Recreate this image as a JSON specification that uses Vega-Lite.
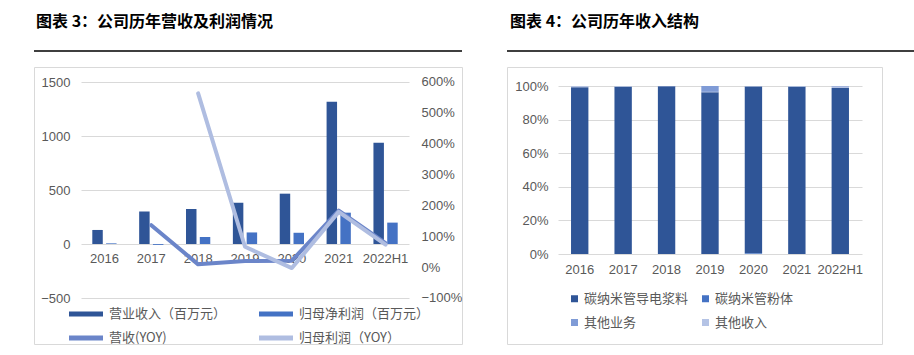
{
  "$schema": "https://vega.github.io/schema/vega-lite/v6.json",
  "padding": {"left": 33, "top": 14, "right": 0, "bottom": 0},
  "background": "white",
  "spacing": 43,
  "resolve": {"scale": {"color": "independent"}, "legend": {"color": "independent"}},
  "config": {
    "font": "Noto Sans CJK SC",
    "axis": {"labelFont": "Liberation Sans", "labelFontSize": 13, "labelColor": "#595959", "domain": false, "ticks": false, "gridColor": "#D9D9D9", "gridWidth": 1, "title": null},
    "legend": {"labelFont": "Noto Sans CJK SC", "labelFontSize": 13, "labelColor": "#595959", "title": null, "padding": 0, "labelLimit": 400}
  },
  "hconcat": [
    {
      "spacing": 14,
      "vconcat": [
        {
          "width": 428,
          "height": 2,
          "title": {"text": "图表 3：公司历年营收及利润情况", "anchor": "start", "dx": 2, "offset": 20, "fontSize": 16, "fontWeight": "bold", "color": "#000000", "font": "Noto Sans CJK SC"},
          "view": {"fill": "#3F3F3F", "stroke": null},
          "data": {"values": []},
          "mark": "rule",
          "encoding": {}
        },
        {
          "width": 428,
          "height": 277,
          "view": {"stroke": "#D9D9D9", "strokeWidth": 1},
          "layer": [
            {
              "data": {"values": [
                {"year": "2016", "series": "营业收入（百万元）", "value": 130},
                {"year": "2017", "series": "营业收入（百万元）", "value": 302},
                {"year": "2018", "series": "营业收入（百万元）", "value": 324},
                {"year": "2019", "series": "营业收入（百万元）", "value": 382},
                {"year": "2020", "series": "营业收入（百万元）", "value": 466},
                {"year": "2021", "series": "营业收入（百万元）", "value": 1317},
                {"year": "2022H1", "series": "营业收入（百万元）", "value": 938},
                {"year": "2016", "series": "归母净利润（百万元）", "value": 6},
                {"year": "2017", "series": "归母净利润（百万元）", "value": -8},
                {"year": "2018", "series": "归母净利润（百万元）", "value": 65},
                {"year": "2019", "series": "归母净利润（百万元）", "value": 107},
                {"year": "2020", "series": "归母净利润（百万元）", "value": 104},
                {"year": "2021", "series": "归母净利润（百万元）", "value": 290},
                {"year": "2022H1", "series": "归母净利润（百万元）", "value": 198}
              ]},
              "mark": {"type": "bar"},
              "encoding": {
                "x": {"field": "year", "type": "nominal", "scale": {"domain": ["2016", "2017", "2018", "2019", "2020", "2021", "2022H1"], "range": [47, 375], "paddingInner": 0, "paddingOuter": 0}, "axis": {"orient": "bottom", "offset": -100, "labelPadding": 8, "labelAngle": 0, "grid": false}},
                "xOffset": {"field": "series", "type": "nominal", "sort": ["营业收入（百万元）", "归母净利润（百万元）"], "scale": {"paddingInner": 0.24, "paddingOuter": 0.82}},
                "y": {"field": "value", "type": "quantitative", "scale": {"domain": [-925.9, 1638.9], "nice": false, "zero": false}, "axis": {"orient": "left", "values": [-500, 0, 500, 1000, 1500], "format": "d", "offset": -47, "labelPadding": 11, "grid": true}},
                "color": {
                  "field": "series", "type": "nominal",
                  "scale": {"domain": ["营业收入（百万元）", "归母净利润（百万元）", "营收(YOY)", "归母利润（YOY）"], "range": ["#2F5597", "#4472C4", "#6B85C9", "#AFBDE1"]},
                  "legend": {
                    "orient": "none", "direction": "horizontal", "legendX": 35, "legendY": 247, "columns": 2, "columnPadding": 32, "rowPadding": -11,
                    "symbolType": "M-1,-0.15H1V0.15H-1Z", "symbolSize": 1156, "labelOffset": 6, "symbolStrokeWidth": 0,
                    "encode": {"symbols": {"update": {"fill": {"scale": "color", "field": "value"}, "stroke": {"value": "transparent"}, "opacity": {"value": 1}}}}
                  }
                }
              }
            },
            {
              "data": {"values": [
                {"year": "2017", "series": "营收(YOY)", "yoy": 1.36},
                {"year": "2018", "series": "营收(YOY)", "yoy": 0.09},
                {"year": "2019", "series": "营收(YOY)", "yoy": 0.20},
                {"year": "2020", "series": "营收(YOY)", "yoy": 0.21},
                {"year": "2021", "series": "营收(YOY)", "yoy": 1.83},
                {"year": "2022H1", "series": "营收(YOY)", "yoy": 0.78},
                {"year": "2018", "series": "归母利润（YOY）", "yoy": 5.63},
                {"year": "2019", "series": "归母利润（YOY）", "yoy": 0.66},
                {"year": "2020", "series": "归母利润（YOY）", "yoy": -0.03},
                {"year": "2021", "series": "归母利润（YOY）", "yoy": 1.79},
                {"year": "2022H1", "series": "归母利润（YOY）", "yoy": 0.73}
              ]},
              "mark": {"type": "line", "strokeWidth": 4, "strokeCap": "round", "strokeJoin": "round"},
              "encoding": {
                "x": {"field": "year", "type": "nominal"},
                "y": {"field": "yoy", "type": "quantitative", "scale": {"domain": [-2.491, 6.486], "nice": false, "zero": false}, "axis": {"orient": "right", "values": [-1, 0, 1, 2, 3, 4, 5, 6], "format": ".0%", "offset": -53, "labelPadding": 12, "grid": false}},
                "color": {"field": "series", "type": "nominal"}
              }
            }
          ],
          "resolve": {"scale": {"y": "independent"}}
        }
      ]
    },
    {
      "spacing": 14,
      "vconcat": [
        {
          "width": 407,
          "height": 2,
          "title": {"text": "图表 4：公司历年收入结构", "anchor": "start", "dx": 3, "offset": 20, "fontSize": 16, "fontWeight": "bold", "color": "#000000", "font": "Noto Sans CJK SC"},
          "view": {"fill": "#3F3F3F", "stroke": null},
          "data": {"values": []},
          "mark": "rule",
          "encoding": {}
        },
        {
          "width": 375,
          "height": 277,
          "view": {"stroke": "#D9D9D9", "strokeWidth": 1},
          "data": {"values": [
            {"year": "2016", "series": "碳纳米管导电浆料", "share": 0.993},
            {"year": "2016", "series": "碳纳米管粉体", "share": 0.0},
            {"year": "2016", "series": "其他业务", "share": 0.002},
            {"year": "2016", "series": "其他收入", "share": 0.005},
            {"year": "2017", "series": "碳纳米管导电浆料", "share": 0.996},
            {"year": "2017", "series": "碳纳米管粉体", "share": 0.0},
            {"year": "2017", "series": "其他业务", "share": 0.001},
            {"year": "2017", "series": "其他收入", "share": 0.003},
            {"year": "2018", "series": "碳纳米管导电浆料", "share": 0.998},
            {"year": "2018", "series": "碳纳米管粉体", "share": 0.0},
            {"year": "2018", "series": "其他业务", "share": 0.001},
            {"year": "2018", "series": "其他收入", "share": 0.001},
            {"year": "2019", "series": "碳纳米管导电浆料", "share": 0.963},
            {"year": "2019", "series": "碳纳米管粉体", "share": 0.0},
            {"year": "2019", "series": "其他业务", "share": 0.035},
            {"year": "2019", "series": "其他收入", "share": 0.002},
            {"year": "2020", "series": "碳纳米管导电浆料", "share": 0.993},
            {"year": "2020", "series": "碳纳米管粉体", "share": 0.004},
            {"year": "2020", "series": "其他业务", "share": 0.001},
            {"year": "2020", "series": "其他收入", "share": 0.002},
            {"year": "2021", "series": "碳纳米管导电浆料", "share": 0.995},
            {"year": "2021", "series": "碳纳米管粉体", "share": 0.0},
            {"year": "2021", "series": "其他业务", "share": 0.002},
            {"year": "2021", "series": "其他收入", "share": 0.003},
            {"year": "2022H1", "series": "碳纳米管导电浆料", "share": 0.988},
            {"year": "2022H1", "series": "碳纳米管粉体", "share": 0.0},
            {"year": "2022H1", "series": "其他业务", "share": 0.004},
            {"year": "2022H1", "series": "其他收入", "share": 0.008}
          ]},
          "mark": {"type": "bar"},
          "encoding": {
            "x": {"field": "year", "type": "nominal", "scale": {"domain": ["2016", "2017", "2018", "2019", "2020", "2021", "2022H1"], "range": [51, 355], "paddingInner": 0.6, "paddingOuter": 0.3}, "axis": {"orient": "bottom", "offset": -90, "labelPadding": 9, "labelAngle": 0, "grid": false}},
            "y": {"field": "share", "type": "quantitative", "stack": "zero", "scale": {"domain": [-0.5357, 1.1131], "nice": false, "zero": false}, "axis": {"orient": "left", "values": [0, 0.2, 0.4, 0.6, 0.8, 1], "format": ".0%", "offset": -51, "labelPadding": 10, "grid": true}},
            "color": {
              "field": "series", "type": "nominal",
              "sort": ["碳纳米管导电浆料", "碳纳米管粉体", "其他业务", "其他收入"],
              "scale": {"domain": ["碳纳米管导电浆料", "碳纳米管粉体", "其他业务", "其他收入"], "range": ["#2F5597", "#4472C4", "#7F9BD6", "#B4C3E5"]},
              "legend": {"orient": "none", "direction": "horizontal", "legendX": 61, "legendY": 242, "columns": 2, "columnPadding": 10, "rowPadding": 10, "symbolType": "square", "symbolSize": 49, "labelOffset": 3, "symbolStrokeWidth": 0}
            }
          }
        }
      ]
    }
  ]
}
